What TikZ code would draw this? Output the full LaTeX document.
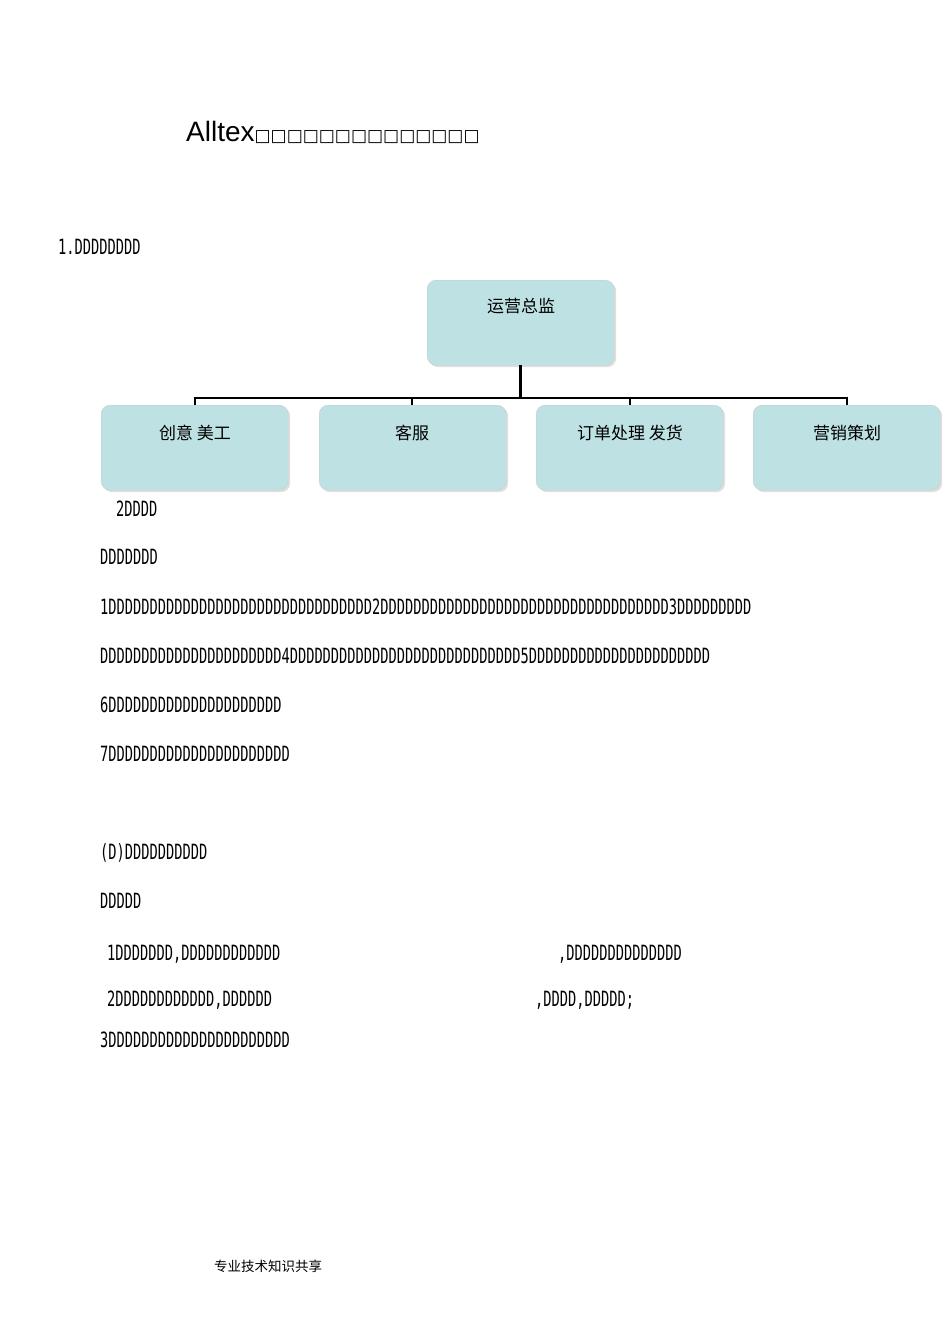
\documentclass[tikz,border=0pt]{standalone}
\usepackage{fontspec}
\usetikzlibrary{shadows}
\setmainfont{Liberation Sans}
\newfontfamily\dmono{DejaVu Sans Mono}[FakeStretch=0.652]
\newfontfamily\cjk{Noto Sans CJK SC}
\newfontfamily\dsq{DejaVu Sans}
\definecolor{boxfill}{HTML}{BEE1E4}
\begin{document}
\begin{tikzpicture}[x=1pt,y=-1pt,
  box/.style={draw=gray!40,fill=boxfill,rounded corners=9pt,minimum width=187pt,minimum height=85pt,anchor=north west,drop shadow={opacity=0.25,shadow xshift=2pt,shadow yshift=-2pt}},
  lbl/.style={font=\cjk\fontsize{17}{17}\selectfont,anchor=center},
  dt/.style={font=\dmono\fontsize{21}{21}\selectfont,anchor=west,inner sep=0pt},
  conn/.style={line width=2.8pt}]
\useasboundingbox (0,0) rectangle (950,1344);
\node[anchor=west,inner sep=0pt,font=\fontsize{28}{28}\selectfont] (title) at (186,132) {Alltex{\dsq\fontsize{17}{17}\selectfont □□□□□□□□□□□□□□}};
\node[dt] (h1) at (58,247) {1.DDDDDDDD};
\node[box] (top) at (427,280) {};
\node[lbl] at (521,306) {运营总监};
\node[box] (b1) at (101,405) {};
\node[box] (b2) at (319,405) {};
\node[box] (b3) at (536,405) {};
\node[box] (b4) at (753,405) {};
\node[lbl] at (195,433) {创意 美工};
\node[lbl] at (412,433) {客服};
\node[lbl] at (630,433) {订单处理 发货};
\node[lbl] at (847,433) {营销策划};
\coordinate (j) at (top.south |- 0,398);
\draw[conn] (top.south) -- (j);
\draw[conn] (b1.north -| 195,0) -- (195,398) -- (847,398) -- (b4.north -| 847,0);
\draw[conn] (412,398) -- (412,405);
\draw[conn] (630,398) -- (630,405);
\node[dt] (t2) at (116,509) {2DDDD};
\node[dt] (t3) at (100,557) {DDDDDDD};
\node[dt] (t4) at (100,607) {1DDDDDDDDDDDDDDDDDDDDDDDDDDDDDDDD2DDDDDDDDDDDDDDDDDDDDDDDDDDDDDDDDDDD3DDDDDDDDD};
\node[dt] (t5) at (100,656) {DDDDDDDDDDDDDDDDDDDDDD4DDDDDDDDDDDDDDDDDDDDDDDDDDDD5DDDDDDDDDDDDDDDDDDDDDD};
\node[dt] (t6) at (100,705) {6DDDDDDDDDDDDDDDDDDDDD};
\node[dt] (t7) at (100,754) {7DDDDDDDDDDDDDDDDDDDDDD};
\node[dt] (t8) at (100,853) {(D)DDDDDDDDDD};
\node[dt] (t9) at (100,901) {DDDDD};
\node[dt] (t10) at (107,954) {1DDDDDDD,DDDDDDDDDDDD};
\node[dt] (t11) at (558,954) {,DDDDDDDDDDDDDD};
\node[dt] (t12) at (107,1000) {2DDDDDDDDDDDD,DDDDDD};
\node[dt] (t13) at (535,1000) {,DDDD,DDDDD;};
\node[dt] (t14) at (100,1040) {3DDDDDDDDDDDDDDDDDDDDDD};
\node[anchor=west,inner sep=0pt,font=\cjk\fontsize{13.5}{13.5}\selectfont] (foot) at (214,1266) {专业技术知识共享};
\end{tikzpicture}
\end{document}
